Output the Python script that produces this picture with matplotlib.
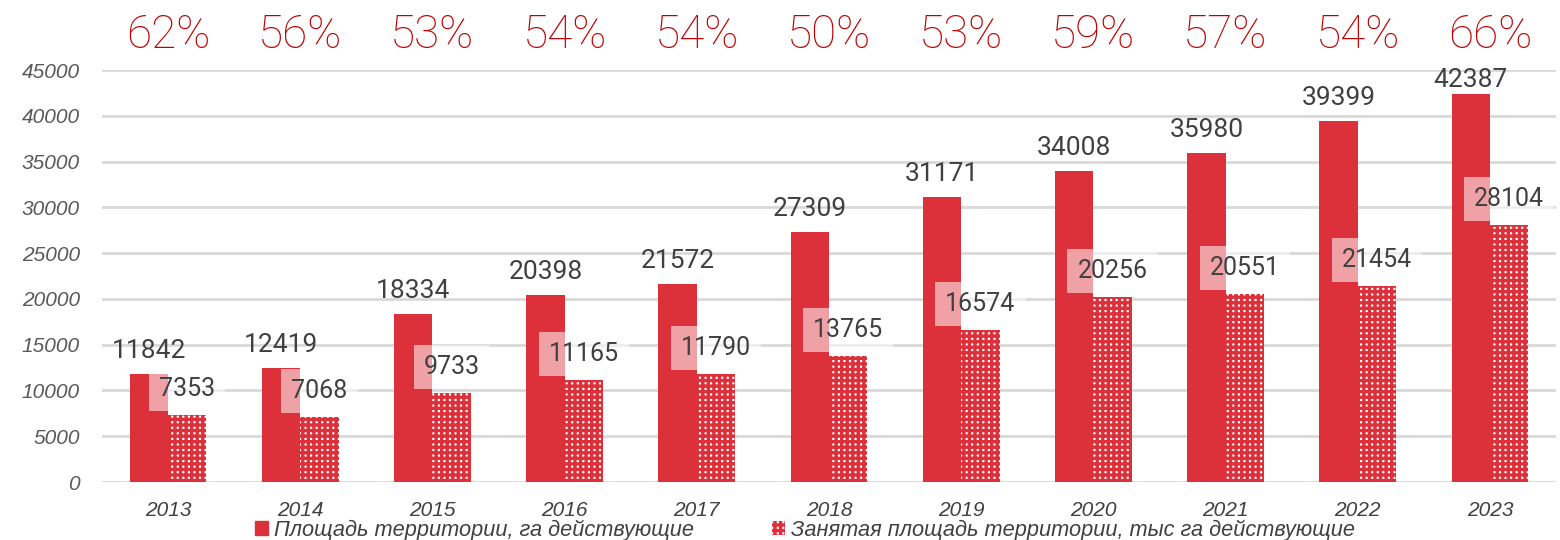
import matplotlib
matplotlib.use("Agg")
import matplotlib.pyplot as plt
from matplotlib.patches import Patch
import numpy as np

years = ["2013", "2014", "2015", "2016", "2017", "2018", "2019", "2020", "2021", "2022", "2023"]
total_area = [11842, 12419, 18334, 20398, 21572, 27309, 31171, 34008, 35980, 39399, 42387]
occupied_area = [7353, 7068, 9733, 11165, 11790, 13765, 16574, 20256, 20551, 21454, 28104]
shares = ["62%", "56%", "53%", "54%", "54%", "50%", "53%", "59%", "57%", "54%", "66%"]
series_names = ["Площадь территории, га действующие",
                "Занятая площадь территории, тыс га действующие"]
yticks = [0, 5000, 10000, 15000, 20000, 25000, 30000, 35000, 40000, 45000]

RED = "#DC313B"
PCT_RED = "#C00000"
TXT = "#404040"
GRID = "#D9D9D9"

plt.rcParams['hatch.linewidth'] = 2.4

fig = plt.figure(figsize=(15.6, 5.4), dpi=100)
ax = fig.add_axes([102/1560, 58/540, (1556-102)/1560, 412/540])

x = np.arange(len(years))
w = 0.29
ax.bar(x - w/2, total_area, width=w, color=RED, zorder=2)
ax.bar(x + w/2, occupied_area, width=w, facecolor="white", edgecolor=RED,
       hatch="+++", linewidth=0, zorder=2)

ax.set_xlim(-0.5, len(years) - 0.5)
ax.set_ylim(0, 45000)
ax.set_yticks(yticks)
ax.set_yticklabels([str(t) for t in yticks], fontstyle="italic",
                   fontfamily="Liberation Sans", fontsize=15, color="#595959")
ax.set_xticks(x)
ax.set_xticklabels(years, fontstyle="italic", fontfamily="Liberation Sans",
                   fontsize=15, color="#404040")
ax.tick_params(axis="y", length=0, pad=16)
ax.tick_params(axis="x", length=0, pad=14)
for s in ax.spines.values():
    s.set_visible(False)
ax.yaxis.grid(True, color=GRID, linewidth=2)
ax.set_axisbelow(True)

# labels above total bars
for xi, v in zip(x, total_area):
    yb = min(v + 1750, 43150)
    ax.text(xi - w/2, yb, str(v), ha="center", va="baseline",
            fontsize=19, fontfamily="Roboto", color=TXT, zorder=5)

# labels for occupied bars (with semi-transparent white box)
for xi, v in zip(x, occupied_area):
    ax.annotate(str(v), (xi + w/2, v), xytext=(0, 26), textcoords="offset pixels",
                ha="center", va="center", fontsize=18, fontfamily="Roboto",
                color=TXT, zorder=5,
                bbox=dict(boxstyle="square,pad=0.4", facecolor="white",
                          edgecolor="none", alpha=0.55))

# percentage labels on top
for xi, s in zip(x, shares):
    ax.text(xi, 48800, s, ha="center", va="center", fontsize=33,
            fontfamily="Roboto", fontweight="light", color=PCT_RED, clip_on=False)

handles = [Patch(facecolor=RED, edgecolor=RED),
           Patch(facecolor="white", edgecolor=RED, hatch="+++", linewidth=0)]
fig.legend(handles, series_names, loc="center", bbox_to_anchor=(805/1560, 1 - 530/540),
           ncol=2, frameon=False, handlelength=0.6, handleheight=0.6,
           handletextpad=0.25, columnspacing=3.6, borderpad=0.2,
           prop=dict(family="Liberation Sans", style="italic", size=15.7),
           labelcolor="#404040")

fig.savefig("out.png", dpi=100)
